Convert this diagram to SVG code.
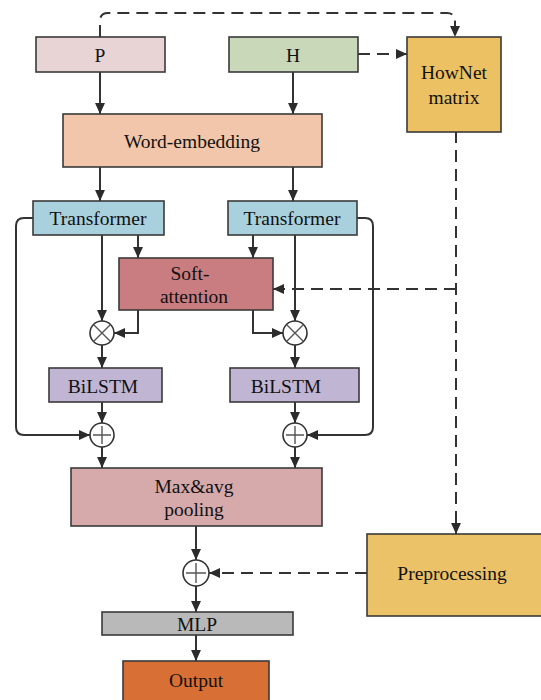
<svg xmlns="http://www.w3.org/2000/svg" width="541" height="700" viewBox="0 0 541 700">
<defs>
<marker id="ah" viewBox="0 0 10 10" refX="10" refY="5" markerWidth="11" markerHeight="11" markerUnits="userSpaceOnUse" orient="auto">
<path d="M0,0.5 L10,5 L0,9.5 Z" fill="#2b2b2b"/>
</marker>
<style>
.box{stroke:#3a3a3a;stroke-width:1.6}
.t{font-family:"Liberation Serif","Times New Roman",serif;font-size:19.5px;fill:#111;text-anchor:middle;dominant-baseline:central}
.ln{fill:none;stroke:#333;stroke-width:2}
.dl{fill:none;stroke:#333;stroke-width:2;stroke-dasharray:12,7}
.op{fill:#fff;stroke:#333;stroke-width:1.6}
.sym{stroke:#555;stroke-width:1.4;fill:none}
</style>
</defs>
<rect width="541" height="700" fill="#fff"/>

<g id="connectors">
<path class="dl" d="M100,37 V21 Q100,13 108,13 H447 Q455,13 455,21 V37" marker-end="url(#ah)"/>
<path class="dl" d="M358,54 H407" marker-end="url(#ah)"/>
<path class="ln" d="M100,72 V114" marker-end="url(#ah)"/>
<path class="ln" d="M293,72 V114" marker-end="url(#ah)"/>
<path class="ln" d="M100,167 V201" marker-end="url(#ah)"/>
<path class="ln" d="M293,167 V201" marker-end="url(#ah)"/>
<path class="ln" d="M102,235 V321" marker-end="url(#ah)"/>
<path class="ln" d="M138,235 V258" marker-end="url(#ah)"/>
<path class="ln" d="M253,235 V258" marker-end="url(#ah)"/>
<path class="ln" d="M295,235 V321" marker-end="url(#ah)"/>
<path class="ln" d="M138,310 V333 H114" marker-end="url(#ah)"/>
<path class="ln" d="M253,310 V333 H283" marker-end="url(#ah)"/>
<path class="ln" d="M102,345 V368" marker-end="url(#ah)"/>
<path class="ln" d="M295,345 V368" marker-end="url(#ah)"/>
<path class="ln" d="M102,402 V423" marker-end="url(#ah)"/>
<path class="ln" d="M295,402 V423" marker-end="url(#ah)"/>
<path class="ln" d="M33,218 H24 Q16,218 16,226 V427 Q16,435 24,435 H90" marker-end="url(#ah)"/>
<path class="ln" d="M357,218 H365 Q373,218 373,226 V427 Q373,435 365,435 H307" marker-end="url(#ah)"/>
<path class="ln" d="M102,447 V468" marker-end="url(#ah)"/>
<path class="ln" d="M295,447 V468" marker-end="url(#ah)"/>
<path class="ln" d="M196,526 V560" marker-end="url(#ah)"/>
<path class="ln" d="M196,586 V612" marker-end="url(#ah)"/>
<path class="ln" d="M196,635 V661" marker-end="url(#ah)"/>
<path class="dl" d="M456,131 V534" marker-end="url(#ah)"/>
<path class="dl" d="M456,289 H273" marker-end="url(#ah)"/>
<path class="dl" d="M367,573 H209" marker-end="url(#ah)"/>
</g>

<g id="P"><rect class="box" x="36" y="37" width="129" height="35" fill="#e8d4d4"/><text class="t" x="100" y="55">P</text></g>
<g id="H"><rect class="box" x="229" y="37" width="129" height="35" fill="#c9d8b8"/><text class="t" x="293" y="55">H</text></g>
<g id="HowNet"><rect class="box" x="407" y="37" width="94" height="95" fill="#ecc163"/><text class="t" x="454" y="72">HowNet</text><text class="t" x="454" y="97">matrix</text></g>
<g id="WordEmbedding"><rect class="box" x="63" y="114" width="259" height="53" fill="#f2c6aa"/><text class="t" x="192" y="141">Word-embedding</text></g>
<g id="TransformerL"><rect class="box" x="33" y="201" width="131" height="34" fill="#a9d0dd"/><text class="t" x="98" y="218">Transformer</text></g>
<g id="TransformerR"><rect class="box" x="228" y="201" width="129" height="34" fill="#a9d0dd"/><text class="t" x="292" y="218">Transformer</text></g>
<g id="SoftAttention"><rect class="box" x="119" y="258" width="154" height="52" fill="#c97d80"/><text class="t" x="190" y="273">Soft-</text><text class="t" x="194" y="296">attention</text></g>
<g id="MulL"><circle class="op" cx="102" cy="333" r="12"/><path class="sym" d="M94,325 L110,341 M110,325 L94,341"/></g>
<g id="MulR"><circle class="op" cx="295" cy="333" r="12"/><path class="sym" d="M287,325 L303,341 M303,325 L287,341"/></g>
<g id="BiLSTML"><rect class="box" x="49" y="368" width="113" height="34" fill="#c0b5d3"/><text class="t" x="103" y="386">BiLSTM</text></g>
<g id="BiLSTMR"><rect class="box" x="230" y="368" width="129" height="34" fill="#c0b5d3"/><text class="t" x="286" y="386">BiLSTM</text></g>
<g id="AddL"><circle class="op" cx="102" cy="435" r="12"/><path class="sym" d="M93,435 H111 M102,426 V444"/></g>
<g id="AddR"><circle class="op" cx="295" cy="435" r="12"/><path class="sym" d="M286,435 H304 M295,426 V444"/></g>
<g id="Pooling"><rect class="box" x="71" y="468" width="251" height="58" fill="#d6a9ab"/><text class="t" x="194" y="486">Max&amp;avg</text><text class="t" x="194" y="509">pooling</text></g>
<g id="AddOut"><circle class="op" cx="196" cy="573" r="13"/><path class="sym" d="M186,573 H206 M196,563 V583"/></g>
<g id="Preprocessing"><rect class="box" x="367" y="534" width="180" height="82" fill="#ebc267"/><text class="t" x="452" y="573">Preprocessing</text></g>
<g id="MLP"><rect class="box" x="102" y="612" width="191" height="23" fill="#b9b9b9"/><text class="t" x="197" y="624">MLP</text></g>
<g id="Output"><rect class="box" x="123" y="661" width="146" height="50" fill="#d86f35"/><text class="t" x="196" y="680">Output</text></g>
</svg>
